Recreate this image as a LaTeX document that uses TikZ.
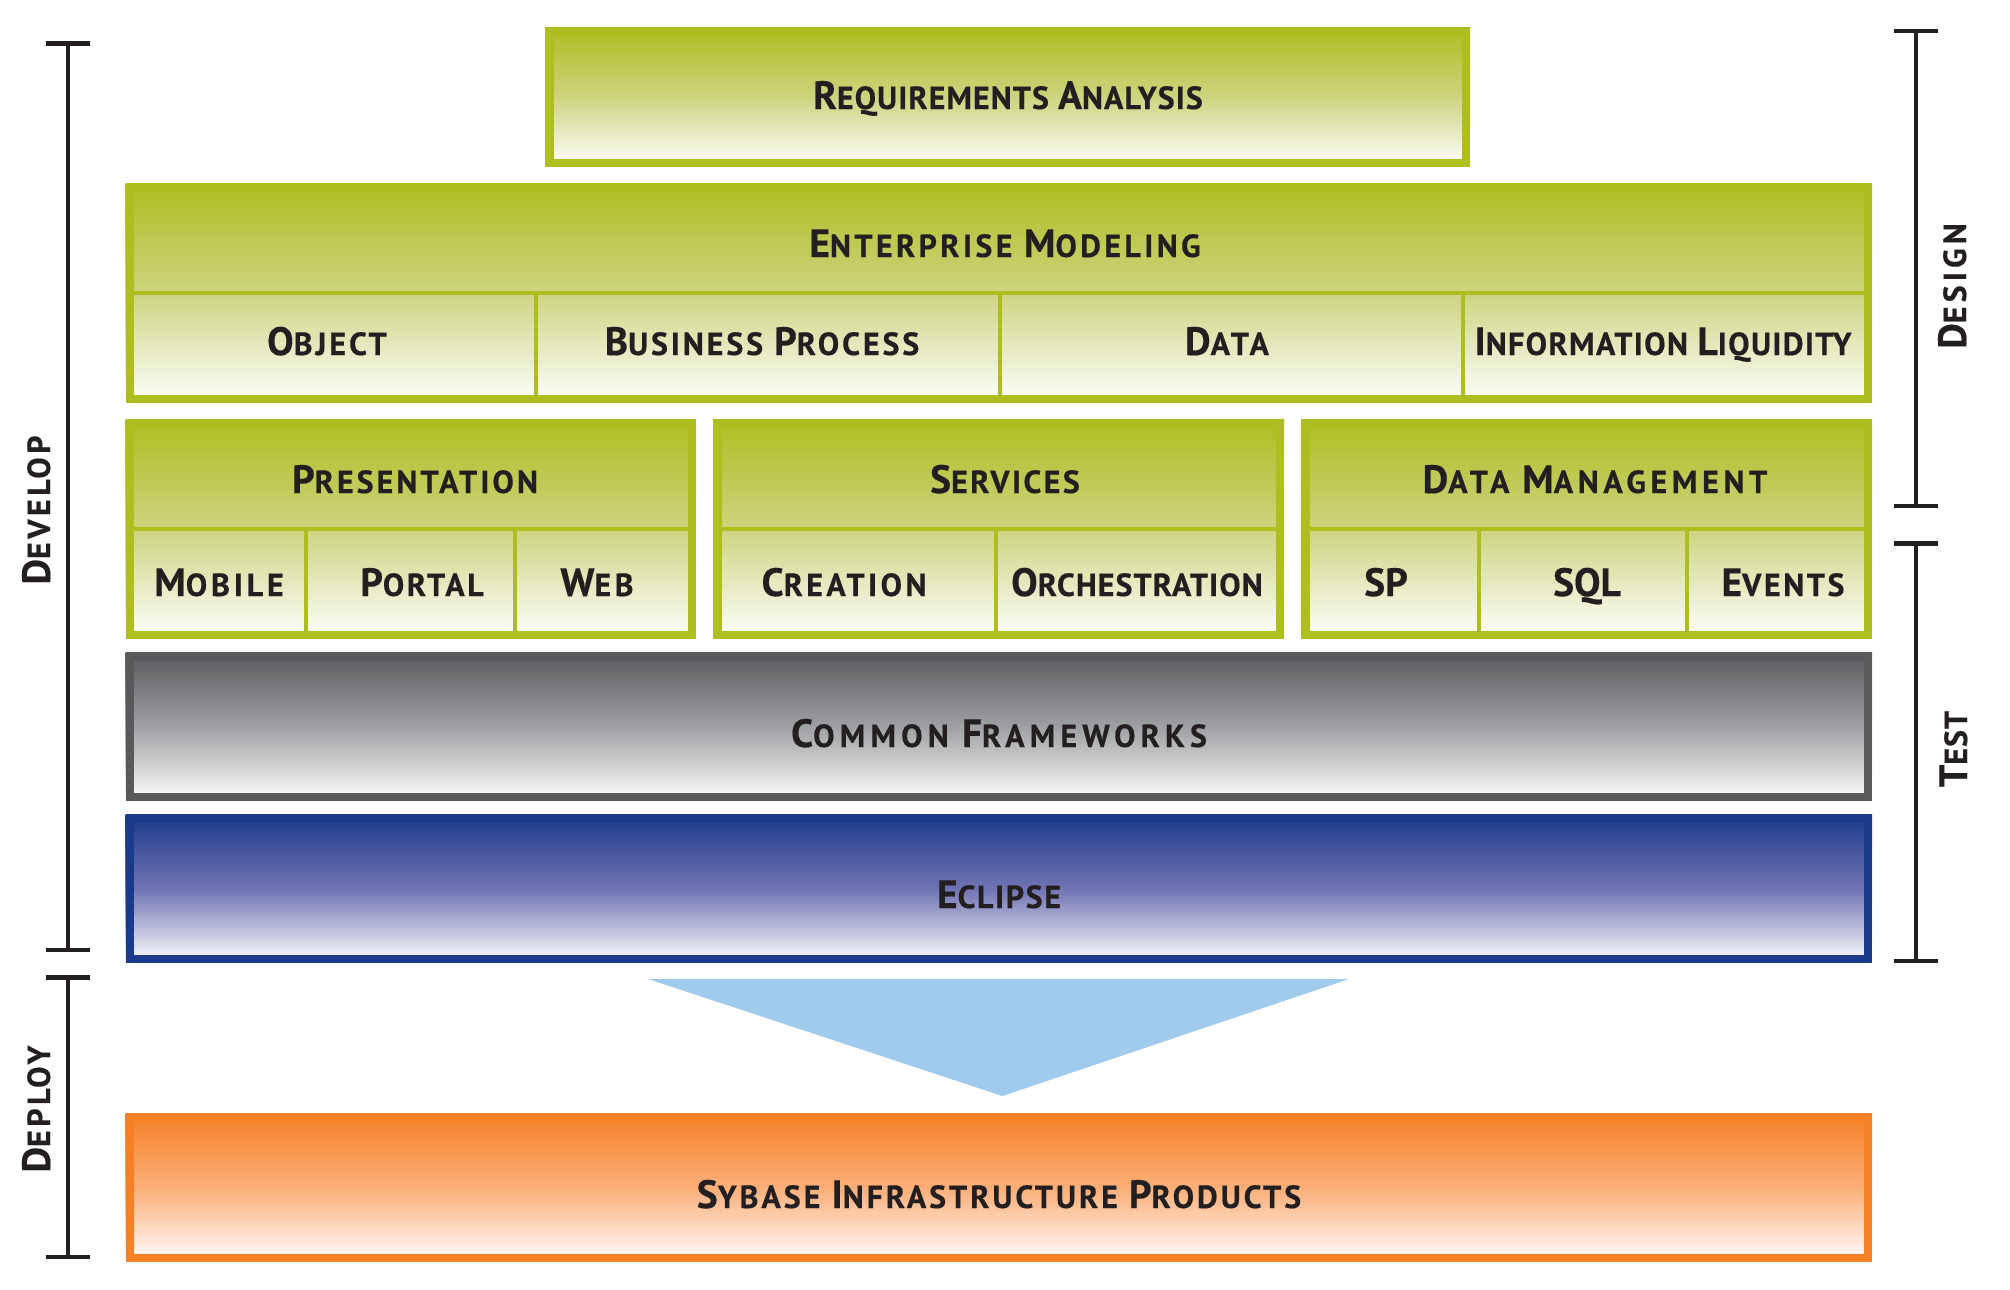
\documentclass[tikz,border=0pt]{standalone}
\usepackage{fontspec}
\setmainfont[BoldFeatures={FakeBold=0.4}]{PT Sans}
\usetikzlibrary{arrows.meta}
\definecolor{stackgreen}{HTML}{AEBD1F}
\definecolor{midgreen}{HTML}{CDD480}
\definecolor{stackgray}{HTML}{58595B}
\definecolor{midgray}{HTML}{9FA0A3}
\definecolor{stackblue}{HTML}{1B3A8C}
\definecolor{midblue}{HTML}{7073B2}
\definecolor{stackorange}{HTML}{F68026}
\definecolor{midorange}{HTML}{FAAE78}
\definecolor{flowblue}{HTML}{A0CBED}
\definecolor{labelink}{HTML}{231F20}
\newcommand{\bigc}[1]{{\fontsize{39.5}{36}\selectfont #1}}
\tikzset{
  stacklabel/.style={anchor=base,text=labelink,inner sep=0pt,font=\bfseries\fontsize{32}{36}\selectfont\addfontfeature{LetterSpace=#1}},
  stacklabel/.default=0,
  sidelabel/.style={stacklabel=#1,rotate=90},
  sidebar/.style={line width=4pt,draw=labelink,{Bar[width=44pt,line width=4.5pt]}-{Bar[width=44pt,line width=4.5pt]}},
  divider/.style={line width=4pt}
}
\begin{document}
\begin{tikzpicture}[x=1pt,y=-1pt]
    \useasboundingbox (0,0) rectangle (2010,1290);

    % Layer boxes: left/top/right/bottom/colour/middle colour
    \foreach \l/\t/\r/\b/\c/\m in {545/28/1470/167/stackgreen/midgreen, 125.5/183/1872/403/stackgreen/midgreen,
                                125.5/419/696/639/stackgreen/midgreen, 713/419/1284/639/stackgreen/midgreen,
                                1301/419/1872/639/stackgreen/midgreen, 125.5/652/1872/801/stackgray/midgray,
                                125.5/814/1872/963/stackblue/midblue, 125.5/1113/1872/1262/stackorange/midorange} {
        \shade[top color=\c,bottom color=white,middle color=\m] (\l,\t) rectangle (\r,\b);
        \draw[\c,line width=8.5pt] (\l+4.25,\t+4.25) rectangle (\r-4.25,\b-4.25);
    }

    % Dividers inside the green boxes
    \draw[stackgreen,divider] (130,293) -- (1868,293);
    \draw[stackgreen,divider] (130,529) -- (692,529);
    \draw[stackgreen,divider] (717,529) -- (1279,529);
    \draw[stackgreen,divider] (1305,529) -- (1868,529);
    \foreach \x in {536,1000,1463} {
        \draw[stackgreen,divider] (\x,293) -- (\x,399);
    }
    \foreach \x in {306,515,996,1479,1687} {
        \draw[stackgreen,divider] (\x,529) -- (\x,635);
    }

    % Flow triangle
    \fill[flowblue] (648,979) -- (1349,979) -- (1002.5,1096) -- cycle;

    % Box labels
    \node[stacklabel=3.2] (reqs) at (1008,109) {\bigc{R}EQUIREMENTS \bigc{A}NALYSIS};
    \node[stacklabel=10.5] (modeling) at (1005,257) {\bigc{E}NTERPRISE \bigc{M}ODELING};
    \node[stacklabel=9.5] (object) at (327,355) {\bigc{O}BJECT};
    \node[stacklabel=9] (process) at (762,355) {\bigc{B}USINESS \bigc{P}ROCESS};
    \node[stacklabel=10] (data) at (1227,355) {\bigc{D}ATA};
    \node[stacklabel=4.2] (liquidity) at (1663,355) {\bigc{I}NFORMATION \bigc{L}IQUIDITY};
    \node[stacklabel=9.5] (presentation) at (415,493) {\bigc{P}RESENTATION};
    \node[stacklabel=7.5] (services) at (1005,493) {\bigc{S}ERVICES};
    \node[stacklabel=14.5] (management) at (1595,493) {\bigc{D}ATA \bigc{M}ANAGEMENT};
    \node[stacklabel=12] (mobile) at (219,596) {\bigc{M}OBILE};
    \node[stacklabel=8] (portal) at (422,596) {\bigc{P}ORTAL};
    \node[stacklabel=11] (web) at (597,596) {\bigc{W}EB};
    \node[stacklabel=10.5] (creation) at (844,596) {\bigc{C}REATION};
    \node[stacklabel=3.3] (orchestration) at (1137,596) {\bigc{O}RCHESTRATION};
    \node[stacklabel] (sp) at (1386,596) {\bigc{SP}};
    \node[stacklabel] (sql) at (1587,596) {\bigc{SQL}};
    \node[stacklabel=8] (events) at (1783,596) {\bigc{E}VENTS};
    \node[stacklabel=16] (frameworks) at (999,747) {\bigc{C}OMMON \bigc{F}RAMEWORKS};
    \node[stacklabel=5] (eclipse) at (999,908) {\bigc{E}CLIPSE};
    \node[stacklabel=9.2] (products) at (999,1208) {\bigc{S}YBASE \bigc{I}NFRASTRUCTURE \bigc{P}RODUCTS};

    % Side brackets
    \coordinate (devtop) at (67.5,41.5);
    \coordinate (devbot) at (67.5,952);
    \coordinate (deptop) at (67.5,975);
    \coordinate (depbot) at (67.5,1259);
    \coordinate (destop) at (1916,29);
    \coordinate (desbot) at (1916,508);
    \coordinate (testtop) at (1916,541);
    \coordinate (testbot) at (1916,963);
    \draw[sidebar] (devtop) -- (devbot);
    \draw[sidebar] (deptop) -- (depbot);
    \draw[sidebar] (destop) -- (desbot);
    \draw[sidebar] (testtop) -- (testbot);

    \node[sidelabel=11] (develop) at (50,510) {\bigc{D}EVELOP};
    \node[sidelabel=11] (deploy) at (50,1109) {\bigc{D}EPLOY};
    \node[sidelabel=13] (design) at (1966,286) {\bigc{D}ESIGN};
    \node[sidelabel=3] (test) at (1967,749) {\bigc{T}EST};
\end{tikzpicture}
\end{document}
